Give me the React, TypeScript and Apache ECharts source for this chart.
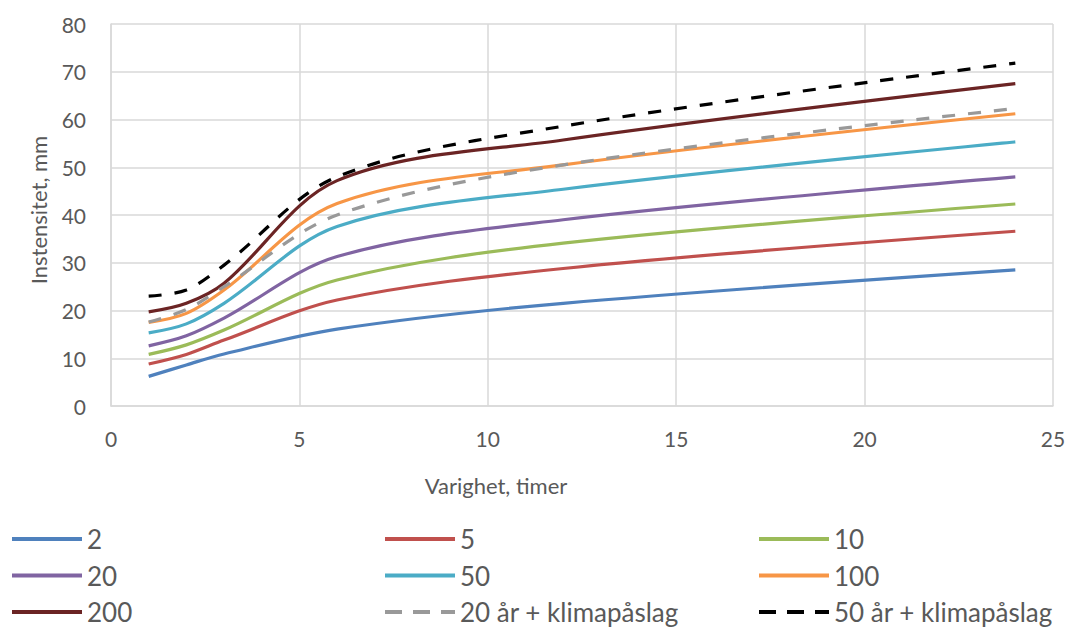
import React, { useEffect, useRef } from "react";
import * as echarts from "echarts";

const durations = [1, 2, 3, 6, 12, 24];
const seriesNames = ["2", "5", "10", "20", "50", "100", "200", "20 år + klimapåslag", "50 år + klimapåslag"];
const p2 = [6.2, 8.6, 10.9, 16.1, 21.5, 28.5];
const p5 = [8.8, 10.8, 13.8, 22.2, 28.8, 36.6];
const p10 = [10.8, 12.8, 15.9, 26.4, 34.1, 42.3];
const p20 = [12.6, 14.7, 18.4, 31.3, 39.0, 48.0];
const p50 = [15.3, 17.2, 21.5, 37.6, 45.4, 55.3];
const p100 = [17.5, 19.4, 24.3, 42.4, 50.5, 61.2];
const p200 = [19.7, 21.5, 25.7, 47.2, 55.7, 67.5];
const p20k = [17.6, 20.2, 25.0, 40.0, 50.5, 62.3];
const p50k = [23.0, 24.3, 29.5, 48.0, 58.6, 71.8];
const xTicks = [0, 5, 10, 15, 20, 25];
const yTicks = [0, 10, 20, 30, 40, 50, 60, 70, 80];

const allValues = [p2, p5, p10, p20, p50, p100, p200, p20k, p50k];
const colors = ["#4F81BD", "#C0504D", "#9BBB59", "#8064A2", "#4BACC6", "#F79646", "#6B2424", "#999999", "#000000"];
const dashed = [false, false, false, false, false, false, false, true, true];

const FONT = "Lato, 'Open Sans', sans-serif";
const TXT = "#595959";

export default function App() {
  const ref = useRef<HTMLDivElement>(null);
  useEffect(() => {
    if (!ref.current) return;
    const chart = echarts.init(ref.current, undefined, { renderer: "svg" });
    const series = allValues.map((vals, i) => ({
      name: seriesNames[i],
      type: "line",
      data: durations.map((d, j) => [d, vals[j]]),
      smooth: 0.33,
      symbol: "none",
      showSymbol: false,
      color: colors[i],
      lineStyle: {
        color: colors[i],
        width: 3.2,
        type: dashed[i] ? [13, 13] : "solid",
        cap: "butt",
      },
      z: 2 + i,
    }));
    const legendCols = [
      [seriesNames[0], seriesNames[3], seriesNames[6]],
      [seriesNames[1], seriesNames[4], seriesNames[7]],
      [seriesNames[2], seriesNames[5], seriesNames[8]],
    ];
    const legendLefts = [10, 383, 757];
    chart.setOption({
      animation: false,
      textStyle: { fontFamily: FONT },
      grid: { left: 111, right: 29, top: 24, bottom: 223, containLabel: false },
      xAxis: {
        type: "value",
        min: 0,
        max: 25,
        interval: 5,
        axisLine: { show: true, lineStyle: { color: "#D9D9D9", width: 1.5 } },
        axisTick: { show: false },
        splitLine: { show: true, lineStyle: { color: "#D9D9D9", width: 1.5 } },
        axisLabel: { color: TXT, fontSize: 21, fontFamily: FONT, margin: 22, formatter: (v: number) => (xTicks.includes(v) ? String(v) : "") },
      },
      yAxis: {
        type: "value",
        min: 0,
        max: 80,
        interval: 10,
        axisLine: { show: true, lineStyle: { color: "#D9D9D9", width: 1.5 } },
        axisTick: { show: false },
        splitLine: { show: true, lineStyle: { color: "#D9D9D9", width: 1.5 } },
        axisLabel: { color: TXT, fontSize: 21, fontFamily: FONT, margin: 25, formatter: (v: number) => (yTicks.includes(v) ? String(v) : "") },
      },
      legend: legendCols.map((col, k) => ({
        data: col.map((name) => ({
          name,
          lineStyle: { width: 4, type: dashed[seriesNames.indexOf(name)] ? [17, 11] : "solid" },
        })),
        orient: "vertical",
        left: legendLefts[k],
        top: 526,
        itemWidth: 70,
        itemHeight: 14,
        itemGap: 10.5,
        padding: 0,
        itemStyle: { opacity: 0 },
        textStyle: { color: TXT, fontSize: 26, fontFamily: FONT },
        selectedMode: false,
      })),
      graphic: [
        {
          type: "text",
          x: 496,
          y: 485,
          style: { text: "Varighet, timer", fill: TXT, font: `22px ${FONT}`, align: "center", verticalAlign: "middle" },
        },
        {
          type: "text",
          x: 38,
          y: 210,
          rotation: Math.PI / 2,
          style: { text: "Instensitet, mm", fill: TXT, font: `22px ${FONT}`, align: "center", verticalAlign: "middle" },
        },
      ],
      series,
    });
    return () => chart.dispose();
  }, []);
  return <div ref={ref} style={{ width: 1082, height: 629, position: "absolute", left: 0, top: 0 }} />;
}
